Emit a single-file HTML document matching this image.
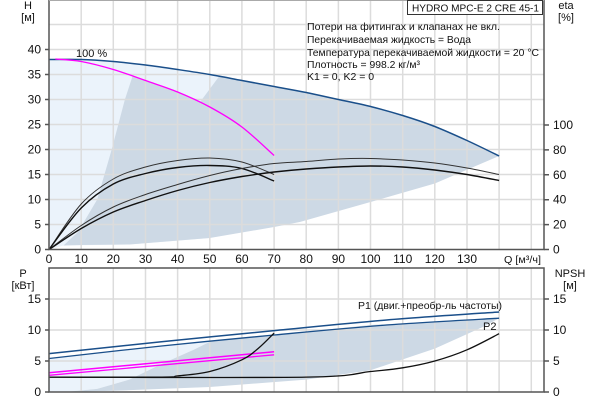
<!DOCTYPE html>
<html><head><meta charset="utf-8"><style>
html,body{margin:0;padding:0;background:#fff}
svg{display:block}
text{font-family:"Liberation Sans",sans-serif;font-size:12px;fill:#111}
.s{font-size:11px}
.i{font-size:10.5px}
</style></head><body>
<svg id="c" width="600" height="400" viewBox="0 0 600 400" xmlns="http://www.w3.org/2000/svg">
<polygon fill="#ebf3fb" points="49,59.5 81.2,59.5 113.3,61.5 145.5,65 177.6,69.5 209.8,74.5 219.4,76 209.8,238 129.4,244.5 63.5,245.5 49,249.5"/>
<polygon fill="#cdd9e5" points="63.5,245.5 78,232 97.2,199.5 111.7,149.5 124.9,99.5 132.6,76 145.5,80.5 177.6,92 200.1,102 219.4,76 241.9,80.5 274.1,86.5 306.2,92.5 338.4,99.5 370.5,106.5 402.7,115.5 434.8,126.5 467,140.5 499.1,156 434.8,183.5 370.5,202 299.8,222 274.1,227 209.8,238 129.4,244.5 81.2,245"/>
<polygon fill="#ebf3fb" points="49,358.5 161.5,346 209.8,341.8 193.7,349.8 161.5,364 129.4,379.6 97.2,388.9 65,392 49,392"/>
<polygon fill="#cdd9e5" points="65,392 97.2,388.9 129.4,379.6 161.5,364 193.7,349.8 209.8,341.8 274.1,335 370.5,325 499.1,318.2 483,326.9 434.8,348.6 370.5,370.3 306.2,379.6 209.8,387 113.3,390.8"/>
<g stroke="#dcdcdc" stroke-width="1.5" fill="none">
<path d="M81.2 0V249.5M113.3 0V249.5M145.5 0V249.5M177.6 0V249.5M209.8 0V249.5M241.9 0V249.5M274.1 0V249.5M306.2 0V249.5M338.4 0V249.5M370.5 0V249.5M402.7 0V249.5M434.8 0V249.5M467 0V249.5M499.1 0V249.5M531.3 0V249.5"/>
<path d="M49 224.5H544M49 199.5H544M49 174.5H544M49 149.5H544M49 124.5H544M49 99.5H544M49 74.5H544M49 49.5H544M49 24.5H544"/>
<path d="M81.2 268V392M113.3 268V392M145.5 268V392M177.6 268V392M209.8 268V392M241.9 268V392M274.1 268V392M306.2 268V392M338.4 268V392M370.5 268V392M402.7 268V392M434.8 268V392M467 268V392M499.1 268V392M531.3 268V392"/>
<path d="M49 299H544M49 330H544M49 361H544"/>
</g>
<g fill="none" stroke-linejoin="round">
<polyline class="sm" stroke="#1a4f8a" stroke-width="1.5" points="49,59.5 81.2,59.5 113.3,61.5 145.5,65 177.6,69.5 209.8,74.5 241.9,80.5 274.1,86.5 306.2,92.5 338.4,99.5 370.5,106.5 402.7,115.5 434.8,126.5 467,140.5 499.1,156"/>
<polyline class="sm" stroke="#ff00ff" stroke-width="1.3" points="55.4,59 81.2,61.5 113.3,69.5 145.5,80.5 177.6,92 209.8,107 241.9,127 274.1,155.5"/>
<polyline class="sm" stroke="#333" stroke-width="1" points="49,249.5 81.2,204 113.3,179 145.5,167 177.6,160.5 209.8,158 241.9,162 274.1,174.5"/>
<polyline class="sm" stroke="#111" stroke-width="1.4" points="49,249.5 81.2,208 113.3,184 145.5,173.5 177.6,167.5 209.8,165.5 241.9,168.5 274.1,181"/>
<polyline class="sm" stroke="#333" stroke-width="1" points="49,249.5 81.2,225.5 113.3,207 145.5,194.5 177.6,184.5 209.8,175.5 241.9,168.5 274.1,163.5 306.2,161.5 338.4,159 370.5,158.5 402.7,160 434.8,163 467,168 499.1,174.5"/>
<polyline class="sm" stroke="#111" stroke-width="1.4" points="49,249.5 81.2,228.5 113.3,212 145.5,200.5 177.6,190.5 209.8,182.5 241.9,176.5 274.1,172 306.2,169 338.4,167 370.5,166 402.7,167 434.8,170 467,174.5 499.1,180.5"/>
</g>
<g fill="none">
<polyline class="sm" stroke="#1a4f8a" stroke-width="1.5" points="49,353.6 161.5,341.8 274.1,330.6 386.6,320 499.1,312"/>
<polyline class="sm" stroke="#1a4f8a" stroke-width="1.3" points="49,358.5 161.5,346 274.1,335 386.6,325 499.1,318.2"/>
<line x1="49" y1="372.8" x2="274.1" y2="351.7" stroke="#ff00ff" stroke-width="1.5"/>
<line x1="49" y1="375.3" x2="274.1" y2="354.8" stroke="#ff00ff" stroke-width="1.3"/>
<polyline class="sm" stroke="#111" stroke-width="1.3" points="49,377.1 161.5,377.1 177.6,375.9 209.8,371.5 241.9,359.8 258,348.6 274.1,333.1"/>
<polyline class="sm" stroke="#111" stroke-width="1.3" points="49,377.1 306.2,377.1 370.5,371.5 402.7,367.8 434.8,361 467,349.8 499.1,333.7"/>
</g>
<g stroke="#555" stroke-width="1.5" fill="none">
<path d="M49 0V249.5H544V0"/>
<path d="M49 0.5H544" stroke="#aaa" stroke-width="1"/>
<path d="M49 268H544V392H49Z"/>
<path d="M45 249.5H49M45 224.5H49M45 199.5H49M45 174.5H49M45 149.5H49M45 124.5H49M45 99.5H49M45 74.5H49M45 49.5H49"/>
<path d="M544 249.5H549M544 224.6H549M544 199.7H549M544 174.8H549M544 149.9H549M544 125H549"/>
<path d="M45 392H49M45 361H49M45 330H49M45 299H49M544 392H549M544 361H549M544 330H549M544 299H549"/>
</g>
<rect x="407.5" y="0.5" width="135" height="14" fill="#fff" stroke="#333"/>
<text x="412" y="11.5" class="i" textLength="127" lengthAdjust="spacingAndGlyphs">HYDRO MPC-E 2 CRE 45-1</text>
<text x="307" y="30" class="i" textLength="193" lengthAdjust="spacingAndGlyphs">Потери на фитингах и клапанах не вкл.</text>
<text x="307" y="43" class="i" textLength="164" lengthAdjust="spacingAndGlyphs">Перекачиваемая жидкость = Вода</text>
<text x="307" y="56" class="i" textLength="232" lengthAdjust="spacingAndGlyphs">Температура перекачиваемой жидкости = 20 °C</text>
<text x="307" y="68" class="i" textLength="113" lengthAdjust="spacingAndGlyphs">Плотность = 998.2 кг/м³</text>
<text x="307" y="80" class="i">K1 = 0, K2 = 0</text>
<text x="76" y="57" class="s">100 %</text>
<text x="28" y="9" class="s" text-anchor="middle">H</text>
<text x="28" y="21" class="s" text-anchor="middle">[м]</text>
<text x="566" y="9" class="s" text-anchor="middle">eta</text>
<text x="566" y="21" class="s" text-anchor="middle">[%]</text>
<text x="23" y="277" class="s" text-anchor="middle">P</text>
<text x="23" y="289" class="s" text-anchor="middle">[кВт]</text>
<text x="570" y="277" class="s" text-anchor="middle">NPSH</text>
<text x="570" y="289" class="s" text-anchor="middle">[м]</text>
<text x="504" y="263" class="i" textLength="37" lengthAdjust="spacingAndGlyphs">Q [м³/ч]</text>
<text x="358" y="309" class="i" textLength="144" lengthAdjust="spacingAndGlyphs">P1 (двиг.+преобр-ль частоты)</text>
<text x="483" y="330" class="s">P2</text>
<g class="s" text-anchor="end">
<text x="41" y="253.5">0</text><text x="41" y="228.5">5</text><text x="41" y="203.5">10</text><text x="41" y="178.5">15</text><text x="41" y="153.5">20</text><text x="41" y="128.5">25</text><text x="41" y="103.5">30</text><text x="41" y="78.5">35</text><text x="41" y="53.5">40</text>
<text x="41" y="396">0</text><text x="41" y="365">5</text><text x="41" y="334">10</text><text x="41" y="303">15</text>
</g>
<g class="s" text-anchor="start">
<text x="553" y="253.5">0</text><text x="553" y="228.6">20</text><text x="553" y="203.7">40</text><text x="553" y="178.8">60</text><text x="553" y="153.9">80</text><text x="553" y="129">100</text>
<text x="553" y="396">0</text><text x="553" y="365">5</text><text x="553" y="334">10</text><text x="553" y="303">15</text>
</g>
<g class="s" text-anchor="middle">
<text x="49" y="263">0</text><text x="81.2" y="263">10</text><text x="113.3" y="263">20</text><text x="145.5" y="263">30</text><text x="177.6" y="263">40</text><text x="209.8" y="263">50</text><text x="241.9" y="263">60</text><text x="274.1" y="263">70</text><text x="306.2" y="263">80</text><text x="338.4" y="263">90</text><text x="370.5" y="263">100</text><text x="402.7" y="263">110</text><text x="434.8" y="263">120</text><text x="467" y="263">130</text>
</g>
</svg>
<script>
(function(){
var ns="http://www.w3.org/2000/svg";
var ps=document.querySelectorAll("polyline.sm");
for(var k=0;k<ps.length;k++){
var pl=ps[k];var a=pl.getAttribute("points").trim().split(/\s+/).map(function(s){var t=s.split(",");return [+t[0],+t[1]];});
var d="M"+a[0][0]+" "+a[0][1];
for(var i=0;i<a.length-1;i++){
var p0=a[i>0?i-1:i],p1=a[i],p2=a[i+1],p3=a[i+2<a.length?i+2:i+1];
var c1x=p1[0]+(p2[0]-p0[0])/6,c1y=p1[1]+(p2[1]-p0[1])/6,c2x=p2[0]-(p3[0]-p1[0])/6,c2y=p2[1]-(p3[1]-p1[1])/6;
d+=" C"+c1x.toFixed(1)+" "+c1y.toFixed(1)+" "+c2x.toFixed(1)+" "+c2y.toFixed(1)+" "+p2[0]+" "+p2[1];}
var p=document.createElementNS(ns,"path");p.setAttribute("d",d);p.setAttribute("fill","none");
p.setAttribute("stroke",pl.getAttribute("stroke"));p.setAttribute("stroke-width",pl.getAttribute("stroke-width"));
pl.parentNode.replaceChild(p,pl);}
})();
</script>
</body></html>
